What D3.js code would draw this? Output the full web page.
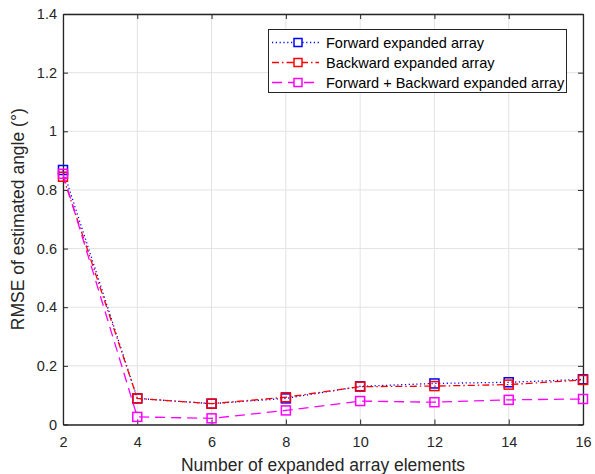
<!DOCTYPE html>
<html>
<head>
<meta charset="utf-8">
<script src="https://cdn.jsdelivr.net/npm/d3@7"></script>
<style>
  html, body { margin: 0; padding: 0; background: #fff; }
  svg { display: block; font-family: "Liberation Sans", Arial, Helvetica, sans-serif; }
</style>
</head>
<body>
<svg id="chart" width="595" height="474"></svg>
<script>
// Number of expanded array elements
const elements = [2, 4, 6, 8, 10, 12, 14, 16];
// RMSE of estimated angle (degrees) for each array configuration
const forward = [0.868, 0.089, 0.071, 0.089, 0.130, 0.140, 0.144, 0.154];
const backward = [0.845, 0.089, 0.071, 0.093, 0.129, 0.131, 0.136, 0.152];
const combined = [0.855, 0.026, 0.021, 0.048, 0.080, 0.076, 0.084, 0.087];

const xTicks = [2, 4, 6, 8, 10, 12, 14, 16];
const yTicks = [0, 0.2, 0.4, 0.6, 0.8, 1, 1.2, 1.4];

const seriesNames = ["Forward expanded array", "Backward expanded array", "Forward + Backward expanded array"];
const seriesData = [forward, backward, combined];
const seriesColors = ["#0000ff", "#ff0000", "#ff00ff"];
const seriesDash = ["1.2,2.6", "7,3,1.5,3", "10,6"];

const svg = d3.select("#chart");
const margin = { left: 63, right: 12, top: 14, bottom: 49.5 };
const W = 595, H = 474;

const x = d3.scaleLinear().domain([2, 16]).range([margin.left, W - margin.right]);
const y = d3.scaleLinear().domain([0, 1.4]).range([H - margin.bottom, margin.top]);

const axisColor = "#262626";
const gridColor = "#e3e3e3";

// grid
const grid = svg.append("g");
grid.selectAll(".gx").data(xTicks).join("line")
  .attr("x1", d => x(d)).attr("x2", d => x(d))
  .attr("y1", y(0)).attr("y2", y(1.4))
  .attr("stroke", gridColor).attr("stroke-width", 1);
grid.selectAll(".gy").data(yTicks).join("line")
  .attr("x1", x(2)).attr("x2", x(16))
  .attr("y1", d => y(d)).attr("y2", d => y(d))
  .attr("stroke", gridColor).attr("stroke-width", 1);

// axes (ticks inward, box on)
const fmt = d => d3.format("~g")(d);
const xAxis = svg.append("g").attr("transform", `translate(0,${y(0)})`)
  .call(d3.axisBottom(x).tickValues(xTicks).tickFormat(fmt).tickSizeInner(-5).tickSizeOuter(0).tickPadding(12.5));
const xAxisTop = svg.append("g").attr("transform", `translate(0,${y(1.4)})`)
  .call(d3.axisTop(x).tickValues(xTicks).tickFormat("").tickSizeInner(-5).tickSizeOuter(0));
const yAxis = svg.append("g").attr("transform", `translate(${x(2)},0)`)
  .call(d3.axisLeft(y).tickValues(yTicks).tickFormat(fmt).tickSizeInner(-5).tickSizeOuter(0).tickPadding(6));
const yAxisRight = svg.append("g").attr("transform", `translate(${x(16)},0)`)
  .call(d3.axisRight(y).tickValues(yTicks).tickFormat("").tickSizeInner(-5).tickSizeOuter(0));

[xAxis, xAxisTop, yAxis, yAxisRight].forEach(a => {
  a.select(".domain").attr("stroke", axisColor).attr("stroke-width", 1.3);
  a.selectAll(".tick line").attr("stroke", axisColor).attr("stroke-width", 1);
  a.selectAll(".tick text").attr("fill", axisColor).attr("font-size", 14.5)
    .attr("font-family", "Liberation Sans, Arial, sans-serif");
});

// axis labels
svg.append("text")
  .attr("x", (x(2) + x(16)) / 2).attr("y", 471)
  .attr("text-anchor", "middle").attr("font-size", 17.5).attr("fill", axisColor)
  .text("Number of expanded array elements");
svg.append("text")
  .attr("transform", `translate(23.5,${(y(0) + y(1.4)) / 2}) rotate(-90)`)
  .attr("text-anchor", "middle").attr("font-size", 17.5).attr("fill", axisColor)
  .text("RMSE of estimated angle (°)");

// series
const line = d3.line().x((d, i) => x(elements[i])).y(d => y(d));
const ms = 9;
seriesData.forEach((vals, k) => {
  const g = svg.append("g");
  g.append("path").datum(vals)
    .attr("d", line).attr("fill", "none")
    .attr("stroke", seriesColors[k]).attr("stroke-width", 1.3)
    .attr("stroke-dasharray", seriesDash[k]);
  g.selectAll("rect").data(vals).join("rect")
    .attr("x", (d, i) => x(elements[i]) - ms / 2)
    .attr("y", d => y(d) - ms / 2)
    .attr("width", ms).attr("height", ms)
    .attr("fill", "none").attr("stroke", seriesColors[k]).attr("stroke-width", 1.5);
});

// legend
const lg = svg.append("g");
lg.append("rect").attr("x", 268.5).attr("y", 29.5).attr("width", 298).attr("height", 63)
  .attr("fill", "#fff").attr("stroke", axisColor).attr("stroke-width", 1);
seriesNames.forEach((name, k) => {
  const cy = 42.5 + k * 20;
  lg.append("line").attr("x1", 272).attr("x2", 319).attr("y1", cy).attr("y2", cy)
    .attr("stroke", seriesColors[k]).attr("stroke-width", 1.3)
    .attr("stroke-dasharray", seriesDash[k]);
  lg.append("rect").attr("x", 298 - 4).attr("y", cy - 4).attr("width", 8).attr("height", 8)
    .attr("fill", "#fff").attr("stroke", seriesColors[k]).attr("stroke-width", 1.5);
  lg.append("text").attr("x", 326).attr("y", cy + 5)
    .attr("font-size", 14.5).attr("fill", "#000").text(name);
});
</script>
</body>
</html>
